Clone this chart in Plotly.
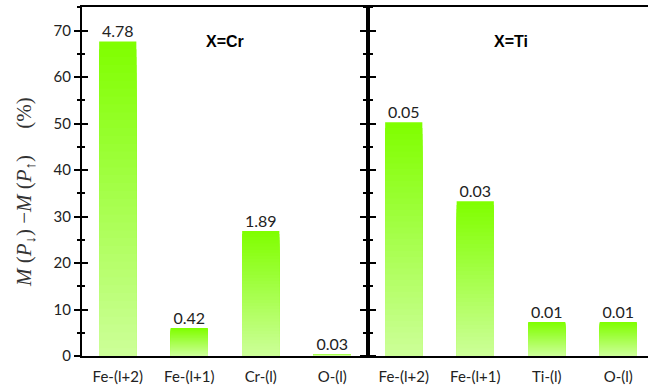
import plotly.graph_objects as go

# ---- data ----
categories_cr = ["Fe-(l+2)", "Fe-(l+1)", "Cr-(l)", "O-(l)"]
values_cr = [67.7, 6.0, 26.9, 0.45]
labels_cr = ["4.78", "0.42", "1.89", "0.03"]

categories_ti = ["Fe-(l+2)", "Fe-(l+1)", "Ti-(l)", "O-(l)"]
values_ti = [50.3, 33.3, 7.3, 7.3]
labels_ti = ["0.05", "0.03", "0.01", "0.01"]

panel_titles = ["X=Cr", "X=Ti"]
y_ticks = [0, 10, 20, 30, 40, 50, 60, 70]

# ---- style ----
W, H = 648, 390
ML, MR, MT, MB = 82, 0, 7, 34
plot_w = W - ML - MR
left_w = 286
d = left_w / plot_w
step = left_w / 4.0
right_hi = -0.5 + (plot_w - left_w) / step

top_rgb = (128, 255, 0)
bot_rgb = (206, 255, 155)
N = 40
tick_font = dict(family="Lato, DejaVu Sans, sans-serif", size=15, color="#222")

fig = go.Figure()


def add_panel(cats, vals, labels, xa, ya):
    for k in range(N, 0, -1):
        f = k / N
        c = tuple(round(bot_rgb[i] + (top_rgb[i] - bot_rgb[i]) * f) for i in range(3))
        fig.add_trace(go.Bar(
            x=cats, y=[v * f for v in vals], width=0.52,
            marker=dict(color="rgb(%d,%d,%d)" % c, line=dict(width=0)),
            xaxis=xa, yaxis=ya, showlegend=False, hoverinfo="skip"))
    fig.add_trace(go.Scatter(
        x=cats, y=vals, text=labels, mode="text", textposition="top center",
        textfont=dict(family="Lato, DejaVu Sans, sans-serif", size=16, color="#222"),
        xaxis=xa, yaxis=ya, showlegend=False, hoverinfo="skip", cliponaxis=False))


add_panel(categories_cr, values_cr, labels_cr, "x", "y")
add_panel(categories_ti, values_ti, labels_ti, "x2", "y2")

yr = [0, 75.1]
common_y = dict(range=yr, tickvals=y_ticks, showgrid=False, zeroline=False,
                showline=True, linecolor="black", linewidth=2, automargin=False,
                ticklen=6, tickwidth=1.5, tickcolor="black", fixedrange=True)
minor_base = dict(dtick=5, ticklen=3, tickwidth=1.5, tickcolor="black")
common_x = dict(showgrid=False, zeroline=False, showline=True, linecolor="black",
                linewidth=2, mirror=True, ticks="", tickfont=tick_font,
                ticklabelstandoff=6, fixedrange=True, automargin=False)

fig.update_layout(
    width=W, height=H,
    margin=dict(l=ML, r=MR, t=MT, b=MB, autoexpand=False),
    paper_bgcolor="white", plot_bgcolor="white",
    barmode="overlay",
    xaxis=dict(domain=[0, d], range=[-0.5, 3.5], **common_x),
    xaxis2=dict(domain=[d, 1], range=[-0.5, right_hi], **common_x),
    yaxis=dict(anchor="x", ticks="outside", mirror="ticks", tickfont=tick_font,
               minor=dict(ticks="outside", **minor_base), **common_y),
    yaxis2=dict(anchor="x2", ticks="outside", mirror=False, showticklabels=False,
                minor=dict(ticks="outside", **minor_base), **common_y),
    yaxis3=dict(anchor="x", overlaying="y", ticks="inside", mirror="ticks",
                showticklabels=False,
                minor=dict(ticks="inside", **minor_base), **common_y),
    yaxis4=dict(anchor="x2", overlaying="y2", ticks="inside", mirror=False,
                showticklabels=False,
                minor=dict(ticks="inside", **minor_base), **common_y),
)

# invisible traces so overlay axes render
fig.add_trace(go.Scatter(x=[categories_cr[0]], y=[0], xaxis="x", yaxis="y3",
                         mode="markers", marker=dict(opacity=0), showlegend=False,
                         hoverinfo="skip"))
fig.add_trace(go.Scatter(x=[categories_ti[0]], y=[0], xaxis="x2", yaxis="y4",
                         mode="markers", marker=dict(opacity=0), showlegend=False,
                         hoverinfo="skip"))

title_font = dict(family="Liberation Sans, Arial, sans-serif", size=16,
                  color="black", weight="bold")
fig.add_annotation(text=panel_titles[0], xref="x", yref="paper",
                   x=1.5, y=1, yshift=-24, showarrow=False, font=title_font)
fig.add_annotation(text=panel_titles[1], xref="x2", yref="paper",
                   x=1.5, y=1, yshift=-24, showarrow=False, font=title_font)

fig.add_annotation(
    text="<i>M</i> (<i>P</i><sub>↓</sub>) −<i>M</i> (<i>P</i><sub>↑</sub>)     (%)",
    xref="paper", yref="paper", x=0, xshift=-72, y=0.47, textangle=-90,
    showarrow=False,
    font=dict(family="Liberation Serif, DejaVu Serif, serif", size=21, color="#333"))

fig.write_html("out.html", config={"displayModeBar": False},
               post_script="document.body.style.margin='0';document.body.style.overflow='hidden';")
